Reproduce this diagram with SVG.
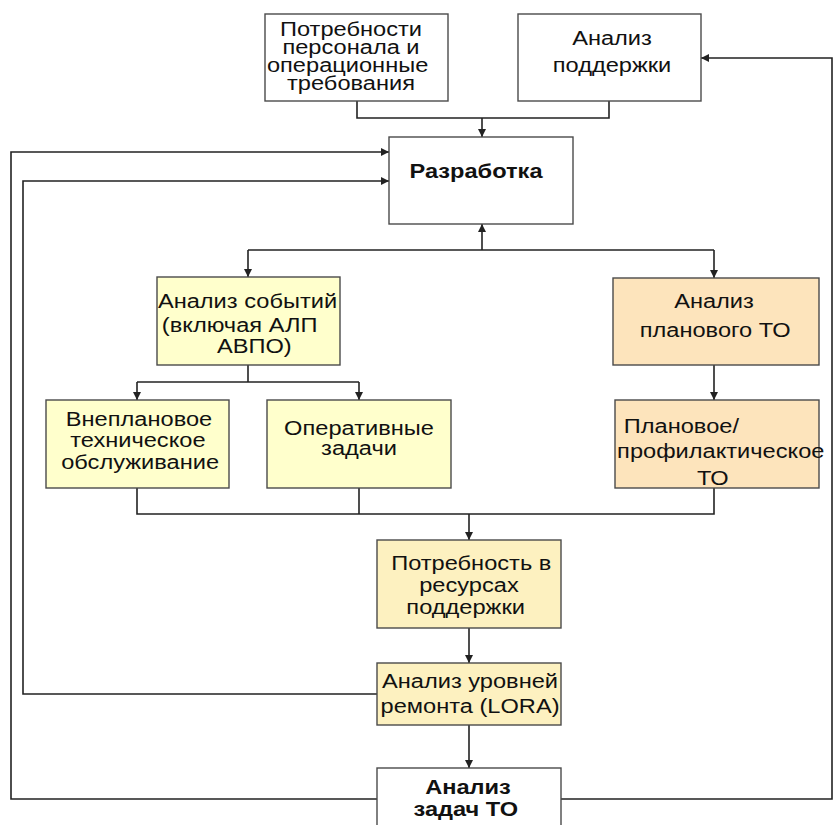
<svg xmlns="http://www.w3.org/2000/svg" width="833" height="825" viewBox="0 0 833 825">
<style>
.box{stroke:#4a4a4a;stroke-width:1.4}
.w{fill:#ffffff}
.y{fill:#ffffcc}
.o{fill:#fde4bc}
.b{fill:#fdf1c0}
.c{fill:none;stroke:#222;stroke-width:1.6}
text{font-family:"Liberation Sans",Arial,sans-serif;font-size:21px;fill:#111;text-anchor:middle}
.bold{font-weight:bold}
</style>
<defs>
<marker id="ah" viewBox="0 0 10 10" refX="10" refY="5" markerWidth="9" markerHeight="8" markerUnits="userSpaceOnUse" orient="auto">
<path d="M0,0 L10,5 L0,10 z" fill="#222"/>
</marker>
</defs>
<rect width="833" height="825" fill="#ffffff"/>
<g id="connectors">
<path class="c" d="M357,101 V118 H609 V101"/>
<path class="c" d="M482,118 V137" marker-end="url(#ah)"/>
<path class="c" d="M377,799 H11 V152 H389" marker-end="url(#ah)"/>
<path class="c" d="M377,694 H23 V181 H389" marker-end="url(#ah)"/>
<path class="c" d="M561,799 H832 V58 H701" marker-end="url(#ah)"/>
<path class="c" d="M482,250 V224" marker-end="url(#ah)"/>
<path class="c" d="M248,250 H714"/>
<path class="c" d="M248,250 V277" marker-end="url(#ah)"/>
<path class="c" d="M714,250 V278" marker-end="url(#ah)"/>
<path class="c" d="M248,365 V382"/>
<path class="c" d="M137,382 H359"/>
<path class="c" d="M137,382 V400" marker-end="url(#ah)"/>
<path class="c" d="M359,382 V400" marker-end="url(#ah)"/>
<path class="c" d="M714,365 V400" marker-end="url(#ah)"/>
<path class="c" d="M137,488 V514 H714 V488"/>
<path class="c" d="M359,488 V514"/>
<path class="c" d="M469,514 V540" marker-end="url(#ah)"/>
<path class="c" d="M469,628 V663" marker-end="url(#ah)"/>
<path class="c" d="M469,725 V768" marker-end="url(#ah)"/>
</g>
<g id="n-personnel">
<rect class="box w" x="265" y="14" width="183" height="87"/>
<text transform="matrix(1.125 0 0 1 351 0)"><tspan x="0" y="36">Потребности</tspan><tspan x="0" y="54">персонала и</tspan><tspan x="-3" y="72">операционные</tspan><tspan x="0" y="90">требования</tspan></text>
</g>
<g id="n-support">
<rect class="box w" x="518" y="14" width="183" height="87"/>
<text transform="matrix(1.125 0 0 1 612 0)"><tspan x="0" y="45">Анализ</tspan><tspan x="0" y="72">поддержки</tspan></text>
</g>
<g id="n-dev">
<rect class="box w" x="389" y="137" width="184" height="87"/>
<text class="bold" transform="matrix(1.125 0 0 1 476 0)"><tspan x="0" y="178">Разработка</tspan></text>
</g>
<g id="n-events">
<rect class="box y" x="157" y="277" width="183" height="88"/>
<text transform="matrix(1.125 0 0 1 247.5 0)"><tspan x="0" y="308">Анализ событий</tspan><tspan x="-7" y="332">(включая АЛП</tspan><tspan x="6" y="353">АВПО)</tspan></text>
</g>
<g id="n-unplanned">
<rect class="box y" x="46" y="400" width="183" height="88"/>
<text transform="matrix(1.125 0 0 1 139 0)"><tspan x="0" y="426">Внеплановое</tspan><tspan x="-1" y="447">техническое</tspan><tspan x="1" y="469">обслуживание</tspan></text>
</g>
<g id="n-operative">
<rect class="box y" x="267" y="400" width="184" height="88"/>
<text transform="matrix(1.125 0 0 1 359 0)"><tspan x="0" y="435">Оперативные</tspan><tspan x="0" y="455">задачи</tspan></text>
</g>
<g id="n-planned-analysis">
<rect class="box o" x="613" y="278" width="206" height="87"/>
<text transform="matrix(1.125 0 0 1 714 0)"><tspan x="0" y="308">Анализ</tspan><tspan x="1" y="337">планового ТО</tspan></text>
</g>
<g id="n-planned">
<rect class="box o" x="615" y="400" width="204" height="88"/>
<text transform="matrix(1.125 0 0 1 714 0)"><tspan x="-29" y="433">Плановое/</tspan><tspan x="6" y="458">профилактическое</tspan><tspan x="-1" y="485">ТО</tspan></text>
</g>
<g id="n-resources">
<rect class="box b" x="377" y="540" width="184" height="88"/>
<text transform="matrix(1.125 0 0 1 469 0)"><tspan x="2" y="570">Потребность в</tspan><tspan x="0" y="592">ресурсах</tspan><tspan x="-3" y="614">поддержки</tspan></text>
</g>
<g id="n-lora">
<rect class="box b" x="377" y="663" width="184" height="62"/>
<text transform="matrix(1.125 0 0 1 470 0)"><tspan x="0" y="688">Анализ уровней</tspan><tspan x="0" y="713">ремонта (LORA)</tspan></text>
</g>
<g id="n-tasks">
<rect class="box w" x="377" y="768" width="184" height="70"/>
<text class="bold" transform="matrix(1.125 0 0 1 468 0)"><tspan x="0" y="794">Анализ</tspan><tspan x="-2" y="816">задач ТО</tspan></text>
</g>
</svg>
